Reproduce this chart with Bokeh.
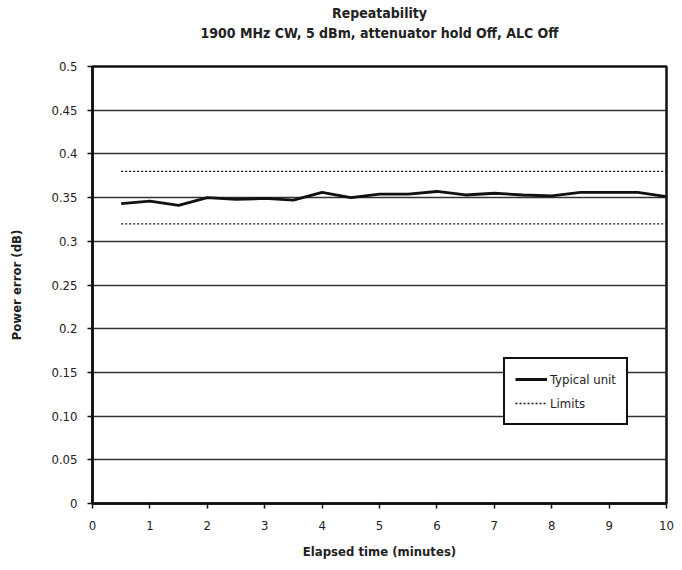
from bokeh.plotting import figure
from bokeh.layouts import column
from bokeh.models import Range1d, Legend, LegendItem, FixedTicker
from bokeh.core.properties import value
from bokeh.embed import file_html
from bokeh.resources import INLINE

# ---- data ----
time_min = [0.5, 1.0, 1.5, 2.0, 2.5, 3.0, 3.5, 4.0, 4.5, 5.0,
            5.5, 6.0, 6.5, 7.0, 7.5, 8.0, 8.5, 9.0, 9.5, 10.0]
typical_unit = [0.343, 0.346, 0.341, 0.350, 0.348, 0.349, 0.347, 0.356, 0.350, 0.354,
                0.354, 0.357, 0.353, 0.355, 0.353, 0.352, 0.356, 0.356, 0.356, 0.351]
limit_x = [0.5, 10.0]
upper_limit = [0.38, 0.38]
lower_limit = [0.32, 0.32]
y_ticks = [0, 0.05, 0.10, 0.15, 0.2, 0.25, 0.3, 0.35, 0.4, 0.45, 0.5]
y_tick_labels = ["0", "0.05", "0.10", "0.15", "0.2", "0.25", "0.3", "0.35", "0.4", "0.45", "0.5"]
x_ticks = [0, 1, 2, 3, 4, 5, 6, 7, 8, 9, 10]
title_lines = ["Repeatability", "1900 MHz CW, 5 dBm, attenuator hold Off, ALC Off"]

FONT = "'Liberation Sans Narrow', 'DejaVu Sans Condensed', 'Roboto', sans-serif"

# ---- title strip (separate figure, same horizontal layout as the chart) ----
TH = 60
tp = figure(width=682, height=TH, output_backend="svg", toolbar_location=None,
            x_range=Range1d(0, 10), y_range=Range1d(0, TH),
            x_axis_type=None, y_axis_type=None,
            min_border_left=92, min_border_right=16, min_border_top=0, min_border_bottom=0)
tp.outline_line_color = None
tp.xgrid.grid_line_color = None
tp.ygrid.grid_line_color = None
tp.text(x=[5, 5], y=[TH - 12, TH - 32], text=title_lines,
        text_align="center", text_baseline="middle",
        text_font=value(FONT), text_font_size="14px", text_font_style="bold",
        text_color="#222222")

# ---- main chart ----
p = figure(width=682, height=570 - TH, output_backend="svg", toolbar_location=None,
           x_range=Range1d(0, 10), y_range=Range1d(0, 0.5),
           min_border_left=92, min_border_right=16, min_border_top=66 - TH, min_border_bottom=67)

p.outline_line_color = "#111111"
p.outline_line_width = 2.5
p.background_fill_color = "white"
p.border_fill_color = "white"

p.xgrid.grid_line_color = None
p.ygrid.grid_line_color = "#333333"
p.ygrid.grid_line_width = 1.4
p.ygrid.ticker = FixedTicker(ticks=y_ticks)

p.yaxis.ticker = FixedTicker(ticks=y_ticks)
p.yaxis.major_label_overrides = {t: l for t, l in zip(y_ticks, y_tick_labels)}
p.xaxis.ticker = FixedTicker(ticks=x_ticks)
p.xaxis.minor_tick_line_color = None
p.yaxis.minor_tick_line_color = None

for ax in (p.xaxis, p.yaxis):
    ax.axis_line_color = "#111111"
    ax.axis_line_width = 2.5
    ax.major_tick_line_color = "#111111"
    ax.major_tick_line_width = 1.5
    ax.major_tick_in = 0
    ax.major_tick_out = 5
    ax.major_label_text_font = FONT
    ax.major_label_text_font_size = "13px"
    ax.major_label_text_color = "#222222"
    ax.axis_label_text_font = FONT
    ax.axis_label_text_font_size = "13px"
    ax.axis_label_text_font_style = "bold"
    ax.axis_label_text_color = "#222222"

p.xaxis.axis_label = "Elapsed time (minutes)"
p.yaxis.axis_label = "Power error (dB)"
p.xaxis.major_label_standoff = 12
p.xaxis.axis_label_standoff = 11
p.yaxis.major_label_standoff = 10
p.yaxis.axis_label_standoff = 24

r_up = p.line(limit_x, upper_limit, line_color="#111111", line_width=1.3, line_dash="2 2")
r_lo = p.line(limit_x, lower_limit, line_color="#111111", line_width=1.3, line_dash="2 2")
r_typ = p.line(time_min, typical_unit, line_color="#111111", line_width=2.8, line_join="round")

legend = Legend(items=[LegendItem(label="Typical unit", renderers=[r_typ]),
                       LegendItem(label="Limits", renderers=[r_up])],
                location=(411, 78), orientation="vertical",
                border_line_color="#111111", border_line_width=2.5, border_line_alpha=1.0,
                background_fill_color="white", background_fill_alpha=1.0,
                label_text_font=FONT, label_text_font_size="13px", label_text_color="#222222",
                glyph_width=32, glyph_height=20, label_standoff=3,
                padding=10, spacing=4, margin=0)
p.add_layout(legend, "center")

layout = column(tp, p, spacing=0)
open("out.html", "w").write(file_html(layout, INLINE))
